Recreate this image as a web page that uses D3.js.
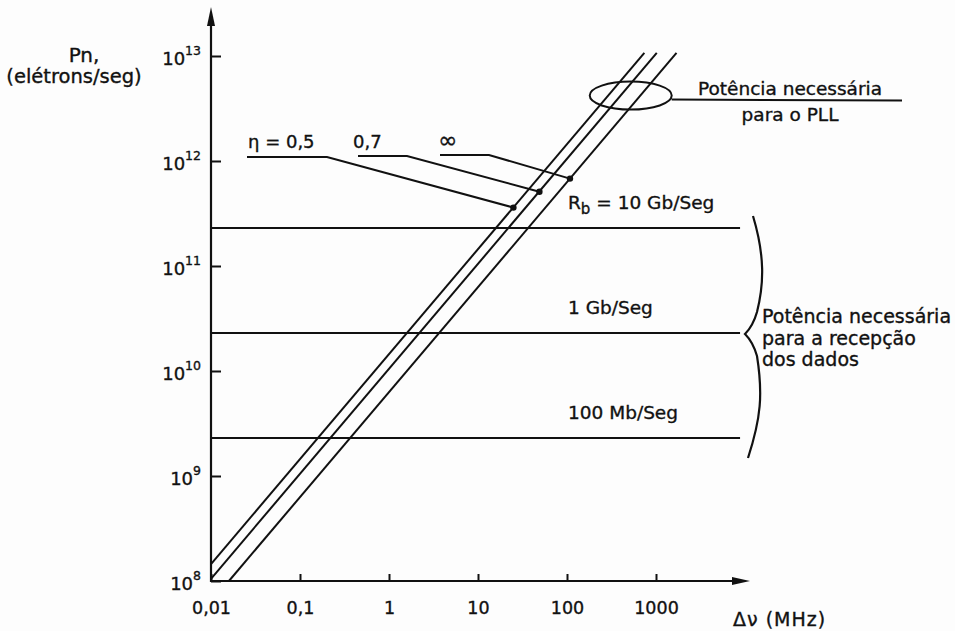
<!DOCTYPE html>
<html>
<head>
<meta charset="utf-8">
<script src="https://cdn.jsdelivr.net/npm/d3@7"></script>
<style>
  body { margin: 0; background: #fdfdfd; }
  svg { display: block; }
  text { font-family: "DejaVu Sans", "Noto Sans", sans-serif; fill: #111; stroke: #111; stroke-width: 0.35px; }
</style>
</head>
<body>
<svg id="chart" width="955" height="631"></svg>
<script>
// Frequency axis (MHz)
const freqTicks = [0.01, 0.1, 1, 10, 100, 1000];
const freqTickLabels = ["0,01", "0,1", "1", "10", "100", "1000"];
// Power axis (electrons/s), powers of ten
const powerTickExps = [8, 9, 10, 11, 12, 13];

// Power needed to receive the data, per bit rate
const rateLabels = ["10 Gb/Seg", "1 Gb/Seg", "100 Mb/Seg"];
const rateValues = [2.3e11, 2.3e10, 2.3e9];
const rateSpan = [0.01, 8800];            // MHz extent of the level lines

// Power needed by the PLL for each efficiency η: [Δν, Pn] end points
const etaLabels = ["η = 0,5", "0,7", "∞"];
const etaStart = [[0.01, 1.45e8], [0.01, 1.05e8], [0.0159, 1e8]];
const etaEnd = [[740, 1.07e13], [1020, 1.07e13], [1700, 1.07e13]];
// marked operating point on each η line
const etaMarks = [[25, 3.6e11], [49, 5.1e11], [108, 6.8e11]];

// PLL region (centre of the ellipse)
const pllCentre = [520, 4.2e12];

const svg = d3.select("#chart");
const ink = "#111";

const x = d3.scaleLog().domain([0.01, 1000]).range([211, 656]);
const y = d3.scaleLog().domain([1e8, 1e13]).range([581, 56]);

const x0 = x.range()[0], y0 = y.range()[0];

// ---- axes ----
const xAxis = d3.axisBottom(x)
  .tickValues(freqTicks)
  .tickFormat((d, i) => freqTickLabels[i])
  .tickSizeInner(-7).tickSizeOuter(0).tickPadding(21);

svg.append("g")
  .attr("transform", `translate(0,${y0})`)
  .call(xAxis)
  .call(g => g.select(".domain").remove())
  .call(g => g.selectAll(".tick line").attr("stroke", ink).attr("stroke-width", 2))
  .call(g => g.selectAll(".tick text")
    .attr("font-family", "DejaVu Sans, sans-serif")
    .attr("font-size", 17.5).attr("fill", ink));

const yAxis = d3.axisLeft(y)
  .tickValues(powerTickExps.map(e => Math.pow(10, e)))
  .tickFormat("")
  .tickSizeInner(-10).tickSizeOuter(0).tickPadding(10);

svg.append("g")
  .attr("transform", `translate(${x0},0)`)
  .call(yAxis)
  .call(g => g.select(".domain").remove())
  .call(g => g.selectAll(".tick line").attr("stroke", ink).attr("stroke-width", 2))
  .call(g => g.selectAll(".tick text").each(function (d) {
    const t = d3.select(this)
      .attr("font-family", "DejaVu Sans, sans-serif")
      .attr("fill", ink).attr("dy", null).attr("y", 8);
    t.append("tspan").attr("font-size", 18).text("10");
    t.append("tspan").attr("font-size", 12.5).attr("dy", -10)
      .text(Math.round(Math.log10(d)));
  }));

// axis lines with arrow heads
const xTip = 750, yTip = 7;
svg.append("line").attr("x1", x0).attr("y1", y0).attr("x2", xTip - 10).attr("y2", y0)
  .attr("stroke", ink).attr("stroke-width", 2.2);
svg.append("line").attr("x1", x0).attr("y1", y0 + 1).attr("x2", x0).attr("y2", yTip + 10)
  .attr("stroke", ink).attr("stroke-width", 2.2);
svg.append("path")
  .attr("d", `M${xTip},${y0} L${xTip - 18},${y0 - 4} L${xTip - 18},${y0 + 4} Z`)
  .attr("fill", ink);
svg.append("path")
  .attr("d", `M${x0},${yTip} L${x0 - 4},${yTip + 19} L${x0 + 4},${yTip + 19} Z`)
  .attr("fill", ink);

// axis titles
svg.append("text").attr("x", 84).attr("y", 62).attr("text-anchor", "middle")
  .attr("font-size", 20).text("Pn,");
svg.append("text").attr("x", 74).attr("y", 83).attr("text-anchor", "middle")
  .attr("font-size", 19.5).text("(elétrons/seg)");
svg.append("text").attr("x", 733).attr("y", 626)
  .attr("font-size", 19).attr("letter-spacing", 1).text("Δν (MHz)");

// ---- bit-rate level lines ----
const rates = svg.append("g");
rateValues.forEach((v, i) => {
  rates.append("line")
    .attr("x1", x(rateSpan[0])).attr("x2", x(rateSpan[1]))
    .attr("y1", y(v)).attr("y2", y(v))
    .attr("stroke", ink).attr("stroke-width", 2.2);
  const t = rates.append("text").attr("x", 568).attr("y", y(v) - 19).attr("font-size", 18.5);
  if (i === 0) {
    t.append("tspan").text("R");
    t.append("tspan").attr("font-size", 15).attr("dy", 5).text("b");
    t.append("tspan").attr("dy", -5).text(" = " + rateLabels[i]);
  } else {
    t.text(rateLabels[i]);
  }
});

// brace grouping the three levels
const bTop = y(rateValues[0]) - 12;
const bTip = y(rateValues[1]) + 1;
const bBot = y(rateValues[2]) + 20;
svg.append("path")
  .attr("d", `M753,${bTop} C765,${bTop + 40} 764,${bTip - 50} 757,${bTip - 22}
              Q753,${bTip - 8} 745,${bTip}
              Q753,${bTip + 8} 757,${bTip + 22}
              C763,${bTip + 60} 761,${bBot - 40} 748,${bBot}`)
  .attr("fill", "none").attr("stroke", ink).attr("stroke-width", 2.2);
const dataNote = svg.append("text").attr("font-size", 19);
["Potência necessária", "para a recepção", "dos dados"].forEach((s, i) => {
  dataNote.append("tspan").attr("x", 762).attr("y", bTip - 11 + i * 21.5).text(s);
});

// ---- η lines ----
const lineGen = d3.line().x(d => x(d[0])).y(d => y(d[1]));
const etaG = svg.append("g");
etaStart.forEach((s, i) => {
  etaG.append("path")
    .attr("d", lineGen([s, etaEnd[i]]))
    .attr("fill", "none").attr("stroke", ink).attr("stroke-width", 2);
});

// η labels with leaders to the marked points
const labelX = [248, 353, 438];
const leaderX = [[247, 327], [358, 407], [440, 489]];
const leaderY = [157, 156, 155];
etaLabels.forEach((lab, i) => {
  etaG.append("text").attr("x", labelX[i]).attr("y", 148)
    .attr("font-size", i === 2 ? 23 : 18).text(lab);
  const m = etaMarks[i];
  etaG.append("path")
    .attr("d", `M${leaderX[i][0]},${leaderY[i]} L${leaderX[i][1]},${leaderY[i]} L${x(m[0])},${y(m[1])}`)
    .attr("fill", "none").attr("stroke", ink).attr("stroke-width", 2);
  etaG.append("circle").attr("cx", x(m[0])).attr("cy", y(m[1])).attr("r", 3.2).attr("fill", ink);
});

// ---- PLL region ----
const cx = x(pllCentre[0]), cy = y(pllCentre[1]);
svg.append("ellipse").attr("cx", cx).attr("cy", cy).attr("rx", 41).attr("ry", 14)
  .attr("fill", "none").attr("stroke", ink).attr("stroke-width", 2);
svg.append("line").attr("x1", cx + 41).attr("y1", cy + 4).attr("x2", 902).attr("y2", cy + 5)
  .attr("stroke", ink).attr("stroke-width", 2);
svg.append("text").attr("x", 790).attr("y", 95).attr("text-anchor", "middle")
  .attr("font-size", 18.5).text("Potência necessária");
svg.append("text").attr("x", 790).attr("y", 121).attr("text-anchor", "middle")
  .attr("font-size", 18.5).text("para o PLL");
</script>
</body>
</html>
